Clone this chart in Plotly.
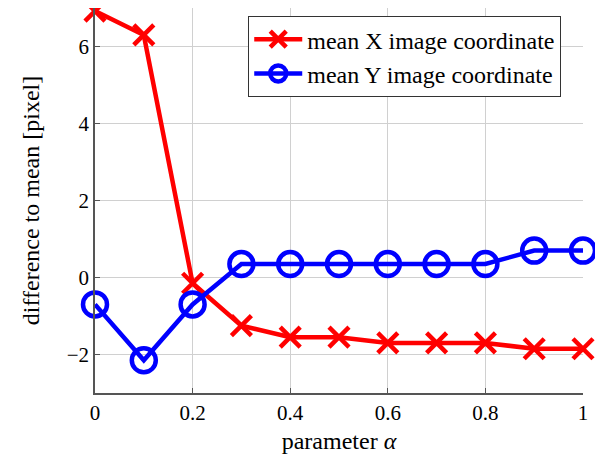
import plotly.graph_objects as go

alpha = [0, 0.1, 0.2, 0.3, 0.4, 0.5, 0.6, 0.7, 0.8, 0.9, 1.0]
mean_x = [6.92, 6.3, -0.15, -1.25, -1.55, -1.55, -1.7, -1.7, -1.7, -1.85, -1.85]
mean_y = [-0.7, -2.15, -0.7, 0.35, 0.35, 0.35, 0.35, 0.35, 0.35, 0.7, 0.7]

font_family = "Liberation Serif, DejaVu Serif, serif"

fig = go.Figure()
fig.add_trace(go.Scatter(
    x=alpha, y=mean_x, mode="lines+markers", name="mean X image coordinate",
    line=dict(color="#ff0000", width=4.5),
    marker=dict(symbol="x-thin-open", size=20, color="#ff0000",
                line=dict(color="#ff0000", width=4.5)),
    cliponaxis=False,
))
fig.add_trace(go.Scatter(
    x=alpha, y=mean_y, mode="lines+markers", name="mean Y image coordinate",
    line=dict(color="#0000ff", width=4.5),
    marker=dict(symbol="circle-open", size=24, color="#0000ff",
                line=dict(color="#0000ff", width=4.5)),
    cliponaxis=False,
))

fig.update_layout(
    width=595, height=447,
    margin=dict(l=87, r=20, t=0, b=62),
    paper_bgcolor="white", plot_bgcolor="white",
    font=dict(family=font_family, size=20, color="black"),
    showlegend=True,
    legend=dict(x=0.314, y=0.979, xanchor="left", yanchor="top",
                bordercolor="#333333", borderwidth=1, bgcolor="white",
                font=dict(size=24, family=font_family), tracegroupgap=0,
                itemwidth=48),
    xaxis=dict(range=[0, 1], tick0=0, dtick=0.2, showgrid=True,
               gridcolor="#d0d0d0", gridwidth=1, zeroline=False,
               showline=True, linecolor="#555555", linewidth=1.5,
               ticks="inside", ticklen=5, tickcolor="#555555",
               tickformat="~g",
               title=dict(text="parameter <i>α</i>", standoff=8),
               tickfont=dict(size=21)),
    yaxis=dict(range=[-3, 7], tick0=-2, dtick=2, showgrid=True,
               gridcolor="#d0d0d0", gridwidth=1, zeroline=False,
               showline=True, linecolor="#555555", linewidth=1.5,
               ticks="inside", ticklen=5, tickcolor="#555555",
               title=dict(text="difference to mean [pixel]", standoff=20),
               tickfont=dict(size=21)),
)

fig.write_html("out.html")
